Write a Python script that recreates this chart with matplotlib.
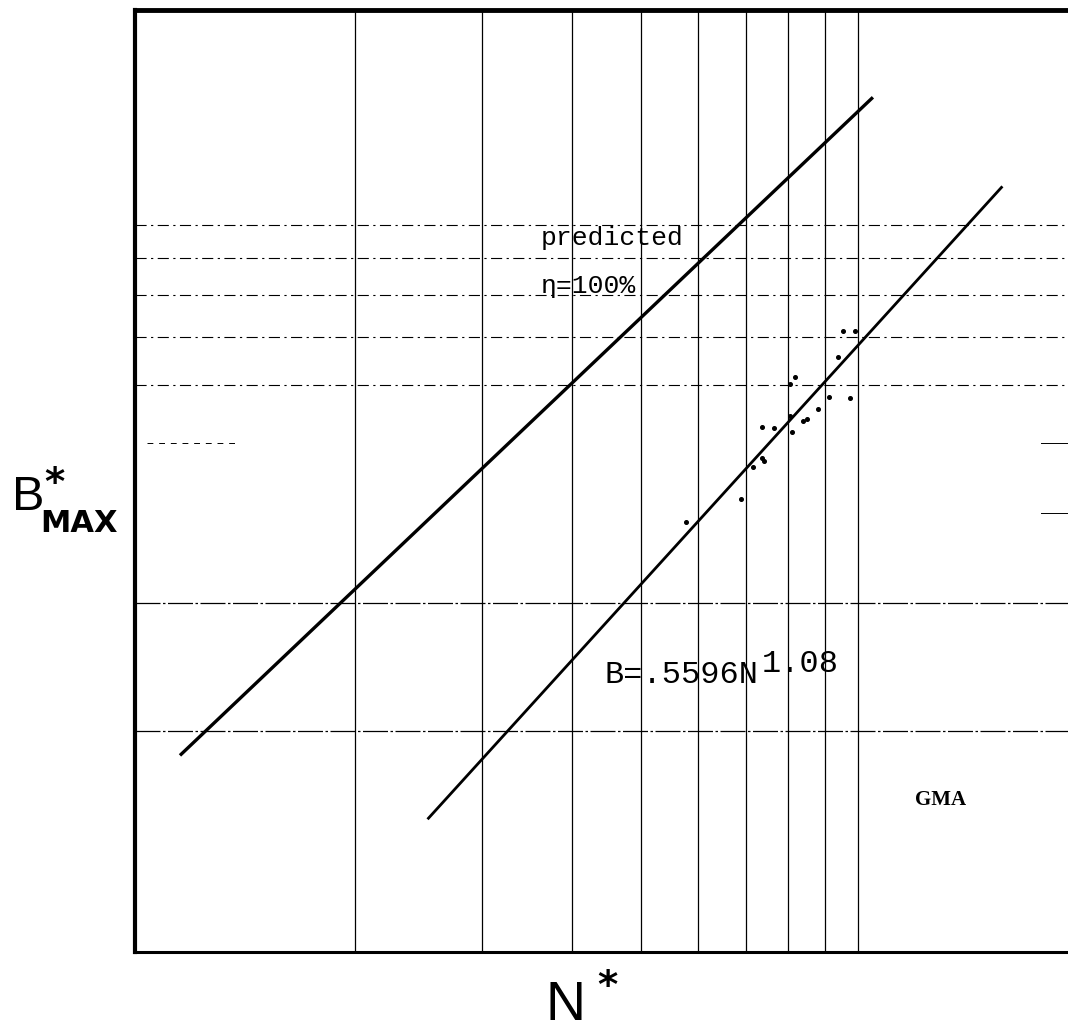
import numpy as np
import matplotlib
matplotlib.use("Agg")
import matplotlib.pyplot as plt

# values (log-log, N* vs B*max)
grid_x = [2, 3, 4, 5, 6, 7, 8, 9, 10]
grid_y_solid = [2, 3]
grid_y_dashed = [6, 7, 8, 9, 10]

predicted_N = [1.14, 10.5]
predicted_B = [1.85, 15.0]

fit_N = [2.52, 15.9]
fit_B = [1.51, 11.3]

obs_N = [5.77, 6.89, 7.15, 7.35, 7.40, 7.37, 7.66, 8.04, 8.19, 8.04,
         8.11, 8.39, 8.51, 8.81, 9.11, 9.39, 9.76, 9.53, 9.90]
obs_B = [3.89, 4.18, 4.63, 4.76, 4.72, 5.26, 5.24, 6.03, 6.16, 5.45,
         5.18, 5.35, 5.39, 5.57, 5.79, 6.56, 5.76, 7.14, 7.14]

W, H = 1068, 1030
fig = plt.figure(figsize=(W / 100, H / 100), dpi=100)
ax = fig.add_axes([135 / W, (H - 952) / H, (1074 - 135) / W, (952 - 10) / H])
ax.set_xscale("log")
ax.set_yscale("log")
ax.set_xlim(0.987, 20)
ax.set_ylim(0.99, 19.8)

# grid
for gx in grid_x:
    ax.axvline(gx, color="black", lw=0.9, zorder=1)
for gy in grid_y_solid:
    ax.axhline(gy, color="black", lw=0.9, ls=(0, (20, 2, 2, 2)), zorder=1)
for gy in grid_y_dashed:
    ax.axhline(gy, color="black", lw=0.8, ls=(0, (10, 4, 2, 4)), zorder=1)
# faded lines, only bits survived the scan
ax.axhline(5, xmin=0.013, xmax=0.11, color="black", lw=0.7, ls=(0, (6, 6)), zorder=1)
ax.axhline(5, xmin=0.965, xmax=0.995, color="black", lw=0.7, zorder=1)
ax.axhline(4, xmin=0.965, xmax=0.995, color="black", lw=0.7, zorder=1)

# lines + data
ax.plot(predicted_N, predicted_B, color="black", lw=2.4, solid_capstyle="butt", zorder=3)
ax.plot(fit_N, fit_B, color="black", lw=2.0, solid_capstyle="butt", zorder=3)
ax.plot(obs_N, obs_B, "o", color="black", ms=2.6, zorder=4)

mono = "Liberation Mono"
ax.text(3.62, 9.38, "predicted", family=mono, fontsize=19, va="baseline")
ax.text(3.62, 8.06, "η=100%", family=mono, fontsize=19, va="baseline")
ax.text(4.45, 2.33, "B=.5596N", family=mono, fontsize=23, va="baseline")
ax.text(7.35, 2.41, "1.08", family=mono, fontsize=23, va="baseline")
ax.text(12.0, 1.58, "GMA", family="Liberation Serif", fontweight="bold",
        fontsize=15, va="baseline")

ax.set_xticks([])
ax.set_yticks([])
ax.minorticks_off()
ax.tick_params(which="both", length=0)
ax.spines["right"].set_visible(False)
ax.spines["left"].set_linewidth(3.0)
ax.spines["top"].set_linewidth(3.5)
ax.spines["bottom"].set_linewidth(2.2)

# axis labels
fig.text(12 / W, 1 - 510 / H, "B", family="Liberation Sans", fontsize=35, va="baseline")
fig.text(44 / W, 1 - 495 / H, "*", family="DejaVu Sans", fontweight="bold",
         fontsize=28, va="baseline")
fig.text(40 / W, 1 - 532 / H, "MAX", family="DejaVu Sans", fontweight="bold",
         fontsize=22, va="baseline")
fig.text(545 / W, 1 - 1020 / H, "N", family="Liberation Sans", fontsize=40, va="baseline")
fig.text(597 / W, 1 - 998 / H, "*", family="DejaVu Sans", fontweight="bold",
         fontsize=28, va="baseline")

fig.savefig("out.png", dpi=100)
